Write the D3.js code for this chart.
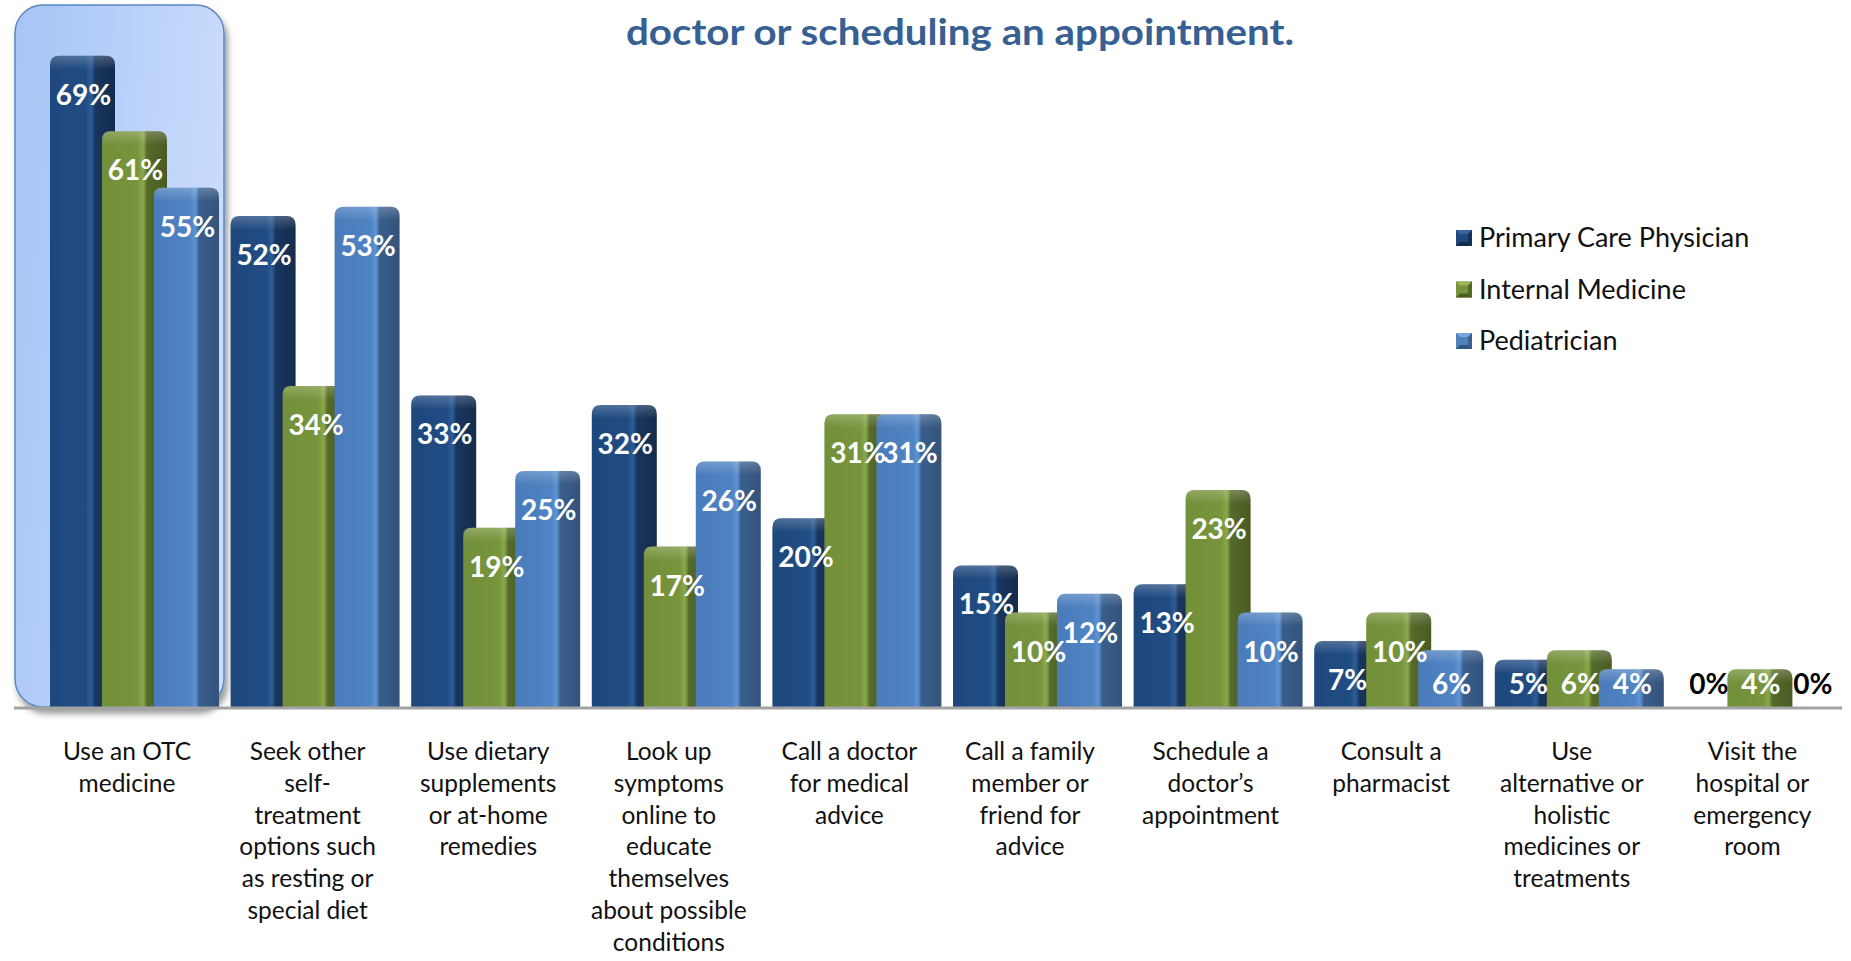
<!DOCTYPE html>
<html><head><meta charset="utf-8">
<script src="https://cdn.jsdelivr.net/npm/d3@7"></script>
<style>html,body{margin:0;padding:0;background:#fff;}svg{display:block;}</style>
</head><body>
<svg id="chart" width="1851" height="961"></svg>
<script>
const categories = [
  "Use an OTC\nmedicine",
  "Seek other\nself-\ntreatment\noptions such\nas resting or\nspecial diet",
  "Use dietary\nsupplements\nor at-home\nremedies",
  "Look up\nsymptoms\nonline to\neducate\nthemselves\nabout possible\nconditions",
  "Call a doctor\nfor medical\nadvice",
  "Call a family\nmember or\nfriend for\nadvice",
  "Schedule a\ndoctor’s\nappointment",
  "Consult a\npharmacist",
  "Use\nalternative or\nholistic\nmedicines or\ntreatments",
  "Visit the\nhospital or\nemergency\nroom"
];
const seriesNames = ["Primary Care Physician", "Internal Medicine", "Pediatrician"];
const primaryCare = [69, 52, 33, 32, 20, 15, 13, 7, 5, 0];
const internalMedicine = [61, 34, 19, 17, 31, 10, 23, 10, 6, 4];
const pediatrician = [55, 53, 25, 26, 31, 12, 10, 6, 4, 0];
const titleText = "doctor or scheduling an appointment.";

const seriesValues = [primaryCare, internalMedicine, pediatrician];
const keys = ["pcp", "im", "ped"];

const svg = d3.select("#chart");
const defs = svg.append("defs");

const baseY = 707;
const y = d3.scaleLinear().domain([0, 100]).range([baseY, baseY - 944]);
const x0 = d3.scaleBand().domain(d3.range(categories.length)).range([50, 50 + 180.6 * categories.length]).padding(0);
const x1 = d3.scalePoint().domain(keys).range([0, 104]);
const barW = 65;

const grads = {
  pcp: [["0", "#1e477c"], ["0.55", "#214c83"], ["0.63", "#2d5c95"], ["0.67", "#21497c"], ["0.69", "#19365e"], ["1", "#132c4d"]],
  im:  [["0", "#728f39"], ["0.55", "#78953d"], ["0.63", "#8aa84b"], ["0.67", "#6d8836"], ["0.69", "#566a2b"], ["1", "#495b23"]],
  ped: [["0", "#4a7bba"], ["0.55", "#4f83c2"], ["0.63", "#5e94d3"], ["0.67", "#4c7ab2"], ["0.69", "#3a5e8c"], ["1", "#33537b"]]
};
Object.entries(grads).forEach(([k, stops]) => {
  const g = defs.append("linearGradient").attr("id", "g-" + k).attr("x1", "0").attr("x2", "1").attr("y1", "0").attr("y2", "0");
  stops.forEach(s => g.append("stop").attr("offset", s[0]).attr("stop-color", s[1]));
});
const capG = defs.append("linearGradient").attr("id", "cap").attr("x1", "0").attr("x2", "0").attr("y1", "0").attr("y2", "1");
capG.append("stop").attr("offset", "0").attr("stop-color", "#fff").attr("stop-opacity", 0.22);
capG.append("stop").attr("offset", "1").attr("stop-color", "#fff").attr("stop-opacity", 0);

const boxG = defs.append("linearGradient").attr("id", "boxg").attr("x1", "0").attr("x2", "1").attr("y1", "0").attr("y2", "0.3");
boxG.append("stop").attr("offset", "0").attr("stop-color", "#a6c4f6");
boxG.append("stop").attr("offset", "1").attr("stop-color", "#cadcfc");
const sh = defs.append("filter").attr("id", "shadow").attr("x", "-10%").attr("y", "-10%").attr("width", "130%").attr("height", "130%");
sh.append("feDropShadow").attr("dx", 3).attr("dy", 6).attr("stdDeviation", 3).attr("flood-color", "#000").attr("flood-opacity", 0.4);

svg.append("rect")
  .attr("x", 15).attr("y", 5).attr("width", 209).attr("height", baseY - 5)
  .attr("rx", 28).attr("ry", 28)
  .attr("fill", "url(#boxg)").attr("stroke", "#5b87c2").attr("stroke-width", 1.5)
  .attr("filter", "url(#shadow)");

function barPath(x, yt, w, h) {
  const r = Math.min(9, h / 2, w / 2);
  if (h <= 0) return "";
  return `M${x},${yt + h}V${yt + r}Q${x},${yt} ${x + r},${yt}H${x + w - r}Q${x + w},${yt} ${x + w},${yt + r}V${yt + h}Z`;
}

const groups = svg.append("g").selectAll("g").data(categories).join("g")
  .attr("transform", (d, i) => `translate(${x0(i)},0)`);

keys.forEach((k, si) => {
  groups.append("path")
    .attr("d", (d, i) => barPath(x1(k), y(seriesValues[si][i]), barW, baseY - y(seriesValues[si][i])))
    .attr("fill", "url(#g-" + k + ")");
  groups.append("path")
    .attr("d", (d, i) => {
      const h = Math.min(14, baseY - y(seriesValues[si][i]));
      return barPath(x1(k), y(seriesValues[si][i]), barW, h);
    })
    .attr("fill", "url(#cap)");
});

const axis = d3.axisBottom(x0).tickSize(0).tickFormat("");
const axG = svg.append("g").attr("transform", `translate(0,${baseY + 1})`).call(axis);
axG.select(".domain").attr("d", `M14,0H1842`).attr("stroke", "#a3a3a3").attr("stroke-width", 3);

keys.forEach((k, si) => {
  groups.append("text")
    .attr("x", () => x1(k) + barW / 2 + 1)
    .attr("y", (d, i) => Math.min(y(seriesValues[si][i]) + 39, 684) + 10)
    .attr("text-anchor", "middle")
    .attr("font-family", "Lato, 'Open Sans', sans-serif")
    .attr("font-weight", "bold")
    .attr("font-size", 28)
    .attr("fill", (d, i) => seriesValues[si][i] === 0 ? "#000" : "#fff")
    .text((d, i) => seriesValues[si][i] + "%");
});

groups.append("text")
  .attr("text-anchor", "middle")
  .attr("font-family", "Lato, 'Open Sans', sans-serif")
  .attr("font-size", 24.5)
  .attr("fill", "#111")
  .each(function (d) {
    const t = d3.select(this);
    d.split("\n").forEach((line, li) => {
      t.append("tspan").attr("x", 77).attr("y", 760 + li * 31.8).text(line);
    });
  });

const legendColors = { pcp: "#1f497d", im: "#77933c", ped: "#4f81bd" };
const legendDark = { pcp: "#132d50", im: "#4b5d24", ped: "#34577f" };
const legendLight = { pcp: "#3a64a0", im: "#9bb55a", ped: "#7aa4dc" };
const lg = svg.append("g");
keys.forEach((k, si) => {
  const cy = 238 + si * 51.5;
  const gx = 1456, gy = cy - 8, s = 16;
  lg.append("rect").attr("x", gx).attr("y", gy).attr("width", s).attr("height", s).attr("fill", legendColors[k]);
  lg.append("path").attr("d", `M${gx},${gy}H${gx + s}L${gx + s - 4},${gy + 4}H${gx + 4}Z`).attr("fill", legendLight[k]);
  lg.append("path").attr("d", `M${gx},${gy + s}H${gx + s}L${gx + s - 4},${gy + s - 4}H${gx + 4}Z`).attr("fill", legendDark[k]);
  lg.append("path").attr("d", `M${gx + s},${gy}V${gy + s}L${gx + s - 4},${gy + s - 4}V${gy + 4}Z`).attr("fill", legendDark[k]).attr("opacity", 0.8);
  lg.append("text").attr("x", 1479).attr("y", cy + 9)
    .attr("font-family", "Lato, 'Open Sans', sans-serif")
    .attr("font-size", 27).attr("fill", "#111")
    .text(seriesNames[si]);
});

svg.append("text")
  .attr("x", 960).attr("y", 45)
  .attr("text-anchor", "middle")
  .attr("font-family", "Lato, 'Open Sans', sans-serif")
  .attr("font-weight", "bold")
  .attr("font-size", 37)
  .attr("fill", "#376092")
  .attr("textLength", 668).attr("lengthAdjust", "spacingAndGlyphs")
  .text(titleText);
</script>
</body></html>
